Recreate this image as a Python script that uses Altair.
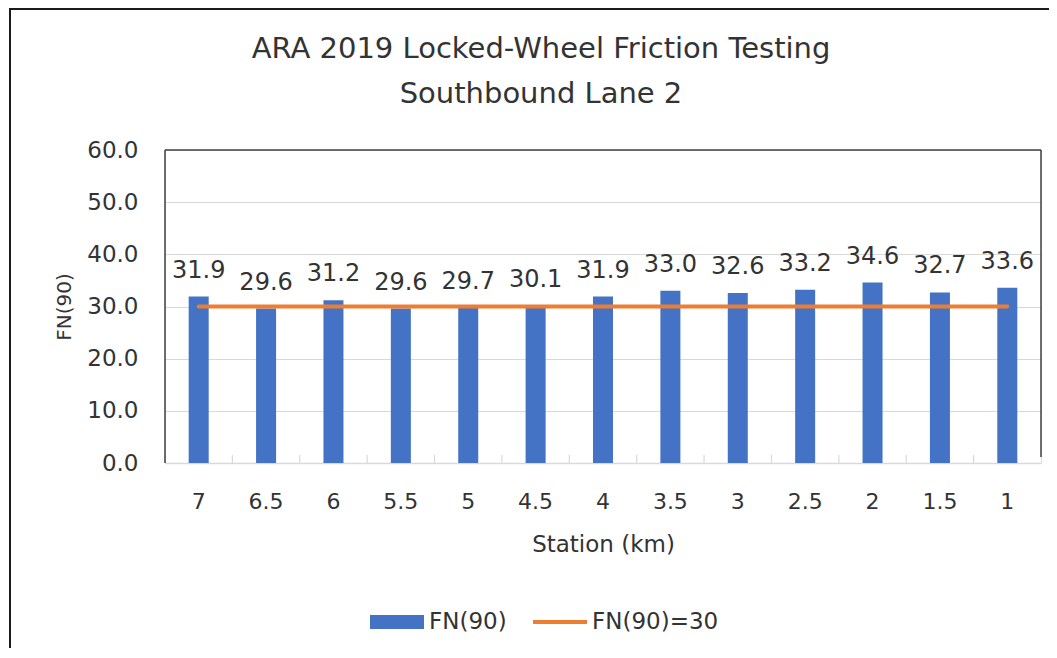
import altair as alt
import pandas as pd

stations = ["7", "6.5", "6", "5.5", "5", "4.5", "4", "3.5", "3", "2.5", "2", "1.5", "1"]
fn90 = [31.9, 29.6, 31.2, 29.6, 29.7, 30.1, 31.9, 33.0, 32.6, 33.2, 34.6, 32.7, 33.6]
threshold = [30.0] * len(stations)
legend_names = ["FN(90)", "FN(90)=30"]
y_ticks = [0, 10, 20, 30, 40, 50, 60]

FONT = "DejaVu Sans"
W, H = 876, 313
STEP = W / len(stations)

df = pd.DataFrame({"station": stations, "fn90": fn90, "thr": threshold})
leg = pd.DataFrame({"series": legend_names})

xscale = alt.Scale(domain=stations, paddingInner=0.703, paddingOuter=0.3515)
x_enc = alt.X(
    "station:N",
    sort=stations,
    scale=xscale,
    title="Station (km)",
    axis=alt.Axis(
        labelAngle=0,
        labelFontSize=22,
        labelColor="#333333",
        labelPadding=28,
        ticks=False,
        domainColor="#D9D9D9",
        domainWidth=1.5,
        titleFontSize=23,
        titleFontWeight="normal",
        titleColor="#333333",
        titlePadding=21,
        labelFont=FONT,
        titleFont=FONT,
    ),
)
yscale = alt.Scale(domain=[0, 60])
y_axis = alt.Axis(
    values=y_ticks,
    format=".1f",
    labelFontSize=23,
    labelColor="#333333",
    labelPadding=27,
    ticks=False,
    domain=False,
    gridColor="#D9D9D9",
    gridWidth=1,
    titleFontSize=20,
    titleFontWeight="normal",
    titleColor="#333333",
    titlePadding=12,
    labelFont=FONT,
    titleFont=FONT,
)

base = alt.Chart(df)

bars = base.mark_bar(color="#4472C4").encode(
    x=x_enc,
    y=alt.Y("fn90:Q", scale=yscale, axis=y_axis, title="FN(90)"),
)

ticks = base.mark_rule(color="#D9D9D9", strokeWidth=1.2, xOffset=-STEP / 2).encode(
    x=alt.X("station:N", sort=stations, scale=xscale),
    y=alt.value(H),
    y2=alt.value(H - 8),
)

line = base.mark_line(color="#ED7D31", strokeWidth=4, strokeCap="round").encode(
    x=alt.X("station:N", sort=stations, scale=xscale),
    y=alt.Y("thr:Q", scale=yscale),
)

labels = base.mark_text(
    dy=-26, fontSize=24, color="#333333", font=FONT, baseline="middle"
).encode(
    x=alt.X("station:N", sort=stations, scale=xscale),
    y=alt.Y("fn90:Q", scale=yscale),
    text=alt.Text("fn90:Q", format=".1f"),
)

leg_props = dict(
    orient="none",
    legendX=205,
    legendY=445,
    direction="horizontal",
    title=None,
    labelFontSize=23,
    labelFont=FONT,
    labelColor="#333333",
    symbolSize=2916,
    symbolStrokeWidth=0,
    symbolOpacity=1,
    columnPadding=26,
    labelOffset=5,
)

legend_layer = (
    alt.Chart(leg)
    .transform_filter("false")
    .mark_point(filled=True, opacity=1, strokeWidth=0)
    .encode(
        color=alt.Color(
            "series:N",
            scale=alt.Scale(domain=legend_names, range=["#4472C4", "#ED7D31"]),
            legend=alt.Legend(**leg_props),
        ),
        shape=alt.Shape(
            "series:N",
            scale=alt.Scale(
                domain=legend_names,
                range=["M-1,-0.26H1V0.26H-1Z", "M-1,-0.075H1V0.075H-1Z"],
            ),
            legend=alt.Legend(**leg_props),
        ),
    )
)

one = alt.Data(values=[{}])
FRAME = "#404040"
frame_left = alt.Chart(one).mark_rule(color=FRAME, strokeWidth=1.5).encode(
    x=alt.value(0), y=alt.value(0), y2=alt.value(H)
)
frame_top = alt.Chart(one).mark_rule(color=FRAME, strokeWidth=1.5).encode(
    x=alt.value(0), x2=alt.value(W), y=alt.value(0)
)
frame_right = alt.Chart(one).mark_rule(color=FRAME, strokeWidth=1.5).encode(
    x=alt.value(W), y=alt.value(0), y2=alt.value(H - 6)
)
outer_left = alt.Chart(one).mark_rule(color="#1a1a1a", strokeWidth=2).encode(
    x=alt.value(-155), y=alt.value(-141), y2=alt.value(520)
)
outer_top = alt.Chart(one).mark_rule(color="#1a1a1a", strokeWidth=2).encode(
    x=alt.value(-156), x2=alt.value(900), y=alt.value(-141)
)

chart = (
    alt.layer(
        bars, ticks, line, labels, legend_layer,
        frame_left, frame_top, frame_right, outer_left, outer_top,
    )
    .properties(
        width=W,
        height=H,
        title=alt.TitleParams(
            text=["ARA 2019 Locked-Wheel Friction Testing", "Southbound Lane 2"],
            fontSize=29,
            font=FONT,
            fontWeight="normal",
            color="#333333",
            anchor="middle",
            dx=-62,
            lineHeight=45,
            offset=0,
            dy=101,
        ),
        autosize=alt.AutoSizeParams(type="none"),
        padding={"left": 157, "top": 142, "right": 8, "bottom": 185},
    )
    .configure_view(stroke=None)
    .configure(background="white")
)

chart.save("out.html", embed_options={"renderer": "svg", "actions": False})
